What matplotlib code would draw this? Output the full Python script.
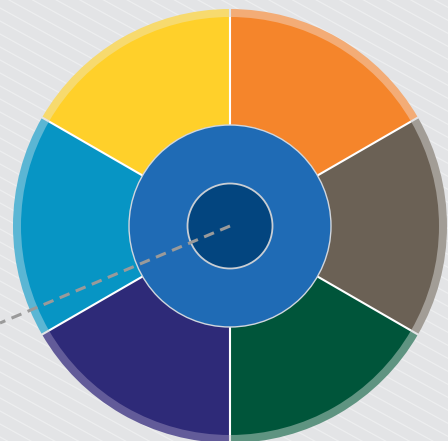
import matplotlib
matplotlib.use("Agg")
import matplotlib.pyplot as plt
import numpy as np

W, H = 448, 441
categories = ["A", "B", "C", "D", "E", "F"]
values = [1, 1, 1, 1, 1, 1]
colors = ["#F5852B", "#6B6155", "#00553A", "#2E2A78", "#0795C4", "#FFD02A"]
band_colors = ["#F3AC76", "#A29D96", "#5F9481", "#625B99", "#5BB6D4", "#F7DA6E"]

fig = plt.figure(figsize=(W / 100, H / 100), dpi=100)
fig.patch.set_facecolor("#E3E4E6")
ax = fig.add_axes([0, 0, 1, 1])

# background diagonal stripes
for c in np.arange(-100, 800, 13):
    xs = np.array([0, W])
    ys = c - 0.55 * xs
    ax.plot(xs, ys, color="#EFF0F1", lw=0.9, alpha=0.85, zorder=0)

cx, cy = 230, H - 226
R_out, R_in = 217, 209

ax.pie(values, colors=band_colors, radius=R_out, center=(cx, cy), startangle=90,
       counterclock=False, wedgeprops=dict(linewidth=0), frame=True)
ax.pie(values, colors=colors, radius=R_in, center=(cx, cy), startangle=90,
       counterclock=False, wedgeprops=dict(linewidth=0), frame=True)

# separators
total = sum(values)
ang = 90.0
for v in values:
    a = np.deg2rad(ang)
    ax.plot([cx, cx + R_in * np.cos(a)], [cy, cy + R_in * np.sin(a)],
            color="white", lw=1.5, zorder=3, solid_capstyle="butt")
    ax.plot([cx + R_in * np.cos(a), cx + (R_out + 2) * np.cos(a)],
            [cy + R_in * np.sin(a), cy + (R_out + 2) * np.sin(a)],
            color="#E3E4E6", lw=1.5, zorder=3, solid_capstyle="butt")
    ang -= 360.0 * v / total

ax.add_patch(plt.Circle((cx, cy), 101, facecolor="#1F6BB5", edgecolor="#D0D6DE", lw=1.0, zorder=5))
ax.add_patch(plt.Circle((cx, cy), 42.5, facecolor="#03457F", edgecolor="#C9CED4", lw=1.3, zorder=6))

ax.plot([cx, 0], [cy, H - 323], color="#9A9A9A", lw=2.2, linestyle=(0, (3.5, 2.2)), zorder=7)

ax.set_xlim(0, W)
ax.set_ylim(0, H)
ax.set_aspect("equal")
ax.axis("off")

fig.savefig("out.png", dpi=100, facecolor=fig.get_facecolor())
